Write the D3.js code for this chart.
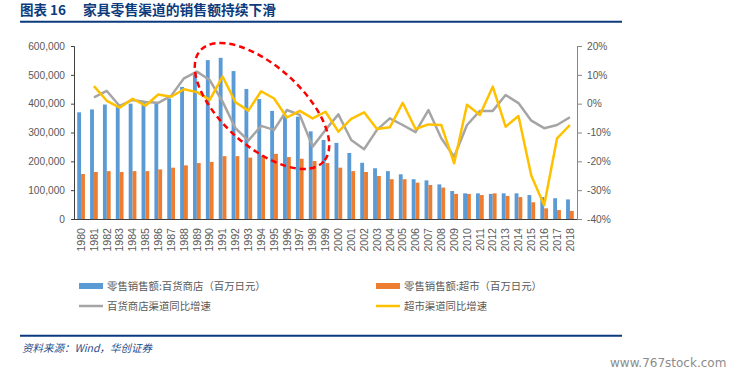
<!DOCTYPE html>
<html><head><meta charset="utf-8">
<script src="https://cdn.jsdelivr.net/npm/d3@7"></script>
<style>
html,body{margin:0;padding:0;background:#fff;}
svg{display:block;}
</style>
</head><body>
<svg id="chart" width="732" height="377"></svg>
<script>
const years = d3.range(1980, 2019).map(String);
const deptSales = [370000, 380000, 397000, 390000, 400000, 405000, 405000, 418000, 458000, 503000, 551000, 559000, 513000, 451000, 416000, 375000, 357000, 355000, 304000, 274000, 264000, 229000, 195000, 176000, 166000, 155000, 138000, 134000, 120000, 97000, 89000, 89000, 87000, 89000, 89000, 83000, 76000, 72000, 68000];
const superSales = [156000, 163000, 166000, 163000, 166000, 166000, 172000, 178000, 186000, 194000, 198000, 218000, 218000, 213000, 220000, 226000, 215000, 209000, 201000, 194000, 178000, 166000, 163000, 149000, 138000, 138000, 126000, 118000, 109000, 87000, 87000, 83000, 89000, 80000, 76000, 58000, 37000, 31000, 28000];
const deptGrowth = [null, 2.2, 4.4, -0.8, 1.3, 0.6, 0.3, 2.7, 8.8, 11.1, 8.2, 0.7, -8.5, -12.8, -7.7, -9.1, -2.2, -3.9, -14.9, -9.1, -3.7, -12.6, -15.8, -9.1, -5.1, -7.4, -9.9, -2.2, -12.0, -18.4, -7.4, -2.5, -2.5, 3.0, 0.2, -5.9, -8.5, -7.4, -4.7];
const superGrowth = [null, 6.1, 1.0, -1.4, 1.7, -0.7, 3.2, 2.4, 5.0, 4.0, 1.3, 9.4, 0.5, -2.4, 4.3, 1.8, -4.8, -2.5, -5.1, -2.8, -9.7, -5.3, -3.0, -8.8, -8.2, 0.3, -8.8, -7.2, -7.4, -20.7, -0.4, -3.9, 5.9, -8.0, -4.3, -25.0, -35.2, -12.0, -7.4];
const leftTicks = [0, 100000, 200000, 300000, 400000, 500000, 600000];
const rightTicks = [-40, -30, -20, -10, 0, 10, 20];
const seriesNames = ["零售销售额:百货商店（百万日元）", "零售销售额:超市（百万日元）", "百货商店渠道同比增速", "超市渠道同比增速"];
const titleLabel = "图表 16";
const titleText = "家具零售渠道的销售额持续下滑";
const sourceText = "资料来源：Wind，华创证券";
const watermark = "www.767stock.com";

const C = {blue:"#5B9BD5", orange:"#ED7D31", gray:"#A5A5A5", yellow:"#FFC000", text:"#595959", navy:"#0B3B7C"};
const svg = d3.select("#chart");
const L = 74, R = 577, T = 46, B = 219;

const x = d3.scaleBand().domain(years).range([L, R]).paddingInner(0.4).paddingOuter(0.25);
const xs = d3.scaleBand().domain(["dept", "super"]).range([0, x.bandwidth()]);
const yL = d3.scaleLinear().domain([0, 600000]).range([B, T]);
const yR = d3.scaleLinear().domain([-40, 20]).range([B, T]);

// title
svg.append("text").attr("x", 20).attr("y", 15).attr("fill", C.navy)
  .attr("font-family", "'Noto Sans CJK SC'").attr("font-weight", "bold").attr("font-size", 13.5)
  .text(titleLabel);
svg.append("text").attr("x", 83).attr("y", 15).attr("fill", C.navy)
  .attr("font-family", "'Noto Sans CJK SC'").attr("font-weight", "bold").attr("font-size", 13.8)
  .text(titleText);
svg.append("line").attr("x1", 20).attr("x2", 622).attr("y1", 21.7).attr("y2", 21.7)
  .attr("stroke", C.navy).attr("stroke-width", 2);

// bars
const bars = svg.append("g");
bars.selectAll("rect.d").data(years).join("rect").attr("class", "d")
  .attr("x", d => x(d) + xs("dept")).attr("width", xs.bandwidth())
  .attr("y", (d, i) => yL(deptSales[i])).attr("height", (d, i) => yL(0) - yL(deptSales[i]))
  .attr("fill", C.blue);
bars.selectAll("rect.s").data(years).join("rect").attr("class", "s")
  .attr("x", d => x(d) + xs("super")).attr("width", xs.bandwidth())
  .attr("y", (d, i) => yL(superSales[i])).attr("height", (d, i) => yL(0) - yL(superSales[i]))
  .attr("fill", C.orange);

// lines
const line = d3.line().defined(d => d.v !== null)
  .x(d => x(d.y) + x.bandwidth() / 2).y(d => yR(d.v));
svg.append("path").datum(years.map((y, i) => ({y, v: deptGrowth[i]})))
  .attr("d", line).attr("fill", "none").attr("stroke", C.gray).attr("stroke-width", 2.5).attr("stroke-linejoin", "round");
svg.append("path").datum(years.map((y, i) => ({y, v: superGrowth[i]})))
  .attr("d", line).attr("fill", "none").attr("stroke", C.yellow).attr("stroke-width", 2.5).attr("stroke-linejoin", "round");

// axes
const fontAxis = "'Liberation Sans', Arial, sans-serif";
const gL = svg.append("g").attr("transform", `translate(${L},0)`)
  .call(d3.axisLeft(yL).tickValues(leftTicks).tickFormat(d3.format(",")).tickSize(3).tickPadding(6));
gL.selectAll("path,line").attr("stroke", "#404040");
gL.selectAll("text").attr("fill", C.text).attr("font-size", 10.2).attr("font-family", fontAxis);

const gR = svg.append("g").attr("transform", `translate(${R},0)`)
  .call(d3.axisRight(yR).tickValues(rightTicks).tickFormat(d => d + "%").tickSize(5).tickPadding(5));
gR.selectAll("path,line").attr("stroke", "#868686");
gR.selectAll("text").attr("fill", C.text).attr("font-size", 10.2).attr("font-family", fontAxis);

const gX = svg.append("g").attr("transform", `translate(0,${B})`)
  .call(d3.axisBottom(x).tickSize(0).tickSizeOuter(0).tickPadding(0));
gX.select("path").attr("stroke", "#404040").attr("d", `M${L},0.5H${R}`);
gX.selectAll("text").attr("fill", C.text).attr("font-size", 10.6).attr("font-family", fontAxis)
  .attr("text-anchor", "end").attr("dy", "0.35em")
  .attr("transform", "translate(0,9) rotate(-90)").attr("x", 0).attr("y", 0);

// ellipse
svg.append("ellipse").attr("cx", 262).attr("cy", 106).attr("rx", 83).attr("ry", 40)
  .attr("transform", "rotate(42,262,106)")
  .attr("fill", "none").attr("stroke", "#FF0000").attr("stroke-width", 2.5).attr("stroke-dasharray", "6,4");

// legend
const lg = svg.append("g").attr("font-family", "'Noto Sans CJK SC'").attr("font-size", 10.4).attr("fill", C.text);
const legendPos = [[79, 286], [376, 286], [79, 306], [376, 306]];
const legendColors = [C.blue, C.orange, C.gray, C.yellow];
seriesNames.forEach((name, i) => {
  const [lx, ly] = legendPos[i];
  if (i < 2) {
    lg.append("rect").attr("x", lx).attr("y", ly - 3).attr("width", 24).attr("height", 6).attr("fill", legendColors[i]);
  } else {
    lg.append("line").attr("x1", lx).attr("x2", lx + 24).attr("y1", ly).attr("y2", ly)
      .attr("stroke", legendColors[i]).attr("stroke-width", 2.5);
  }
  lg.append("text").attr("x", lx + 28).attr("y", ly).attr("dy", "0.35em").text(name);
});

// footer
svg.append("line").attr("x1", 20).attr("x2", 622).attr("y1", 335.7).attr("y2", 335.7)
  .attr("stroke", C.navy).attr("stroke-width", 2);
svg.append("text").attr("x", 22).attr("y", 352).attr("fill", "#1F4E8C")
  .attr("font-family", "'Noto Sans CJK SC'").attr("font-style", "italic").attr("font-size", 10.5)
  .text(sourceText);
svg.append("text").attr("x", 610).attr("y", 367).attr("fill", "#8C8C8C")
  .attr("font-family", "'DejaVu Sans', sans-serif").attr("font-size", 12)
  .text(watermark);
</script>
</body></html>
